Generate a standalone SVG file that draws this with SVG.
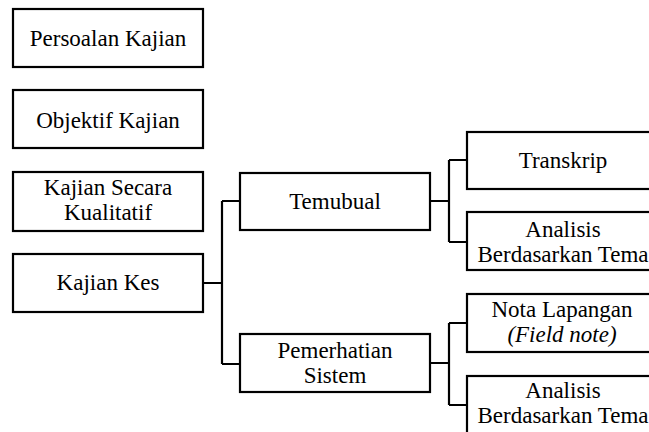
<svg xmlns="http://www.w3.org/2000/svg" width="649" height="432" viewBox="0 0 649 432" font-family="Liberation Serif, DejaVu Serif, serif">
  <style>
    .box { fill: #ffffff; stroke: #000000; stroke-width: 2.2; }
    .lbl { font-size: 23px; fill: #000000; text-anchor: middle; }
    .it { font-style: italic; }
    .wire { fill: none; stroke: #000000; stroke-width: 2.2; }
  </style>
  <rect width="649" height="432" fill="#ffffff"/>

  <!-- connectors -->
  <g id="connectors" class="wire">
    <path d="M203 283 H222 M222 201 V364 M222 201 H240 M222 364 H240"/>
    <path d="M430 201 H449 M449 160 V242 M449 160 H467 M449 242 H467"/>
    <path d="M430 363 H449 M449 323 V405 M449 323 H467 M449 405 H467"/>
  </g>

  <g id="persoalan">
    <rect class="box" x="13" y="9" width="190" height="58"/>
    <text class="lbl" x="108" y="46" font-family="Liberation Serif">Persoalan Kajian</text>
  </g>
  <g id="objektif">
    <rect class="box" x="13" y="90" width="190" height="58"/>
    <text class="lbl" x="108" y="128">Objektif Kajian</text>
  </g>
  <g id="kualitatif">
    <rect class="box" x="13" y="172" width="190" height="59"/>
    <text class="lbl" x="108" y="195">Kajian Secara</text>
    <text class="lbl" x="108" y="220">Kualitatif</text>
  </g>
  <g id="kajian-kes">
    <rect class="box" x="13" y="254" width="190" height="58"/>
    <text class="lbl" x="108" y="290">Kajian Kes</text>
  </g>
  <g id="temubual">
    <rect class="box" x="240" y="173" width="190" height="57"/>
    <text class="lbl" x="335" y="209">Temubual</text>
  </g>
  <g id="pemerhatian">
    <rect class="box" x="240" y="334" width="190" height="58"/>
    <text class="lbl" x="335" y="358">Pemerhatian</text>
    <text class="lbl" x="335" y="383">Sistem</text>
  </g>
  <g id="transkrip">
    <rect class="box" x="467" y="132" width="192" height="57"/>
    <text class="lbl" x="563" y="168">Transkrip</text>
  </g>
  <g id="analisis-1">
    <rect class="box" x="467" y="212" width="192" height="58"/>
    <text class="lbl" x="563" y="237">Analisis</text>
    <text class="lbl" x="563" y="262">Berdasarkan Tema</text>
  </g>
  <g id="nota-lapangan">
    <rect class="box" x="467" y="294" width="192" height="58"/>
    <text class="lbl" x="562" y="317">Nota Lapangan</text>
    <text class="lbl it" x="562" y="342">(Field note)</text>
  </g>
  <g id="analisis-2">
    <rect class="box" x="467" y="376" width="192" height="58"/>
    <text class="lbl" x="563" y="398">Analisis</text>
    <text class="lbl" x="563" y="423">Berdasarkan Tema</text>
  </g>
</svg>
